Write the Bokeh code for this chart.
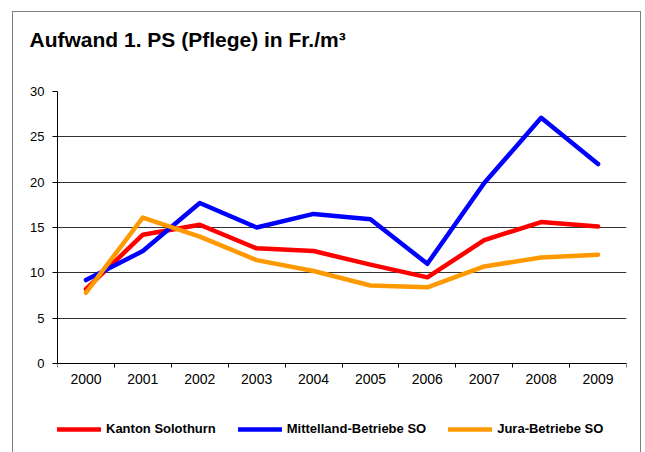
from bokeh.plotting import figure
from bokeh.models import Range1d, FixedTicker, Legend, LegendItem, LinearAxis
from bokeh.embed import file_html
from bokeh.resources import INLINE

title_text = "Aufwand 1. PS (Pflege) in Fr./m³"
years = ["2000", "2001", "2002", "2003", "2004", "2005", "2006", "2007", "2008", "2009"]
kanton = [8.2, 14.2, 15.3, 12.7, 12.4, 10.9, 9.5, 13.6, 15.6, 15.1]
mittelland = [9.2, 12.4, 17.7, 15.0, 16.5, 15.9, 11.0, 19.9, 27.1, 22.0]
jura = [7.8, 16.1, 14.0, 11.4, 10.2, 8.6, 8.4, 10.7, 11.7, 12.0]
y_ticks = [0, 5, 10, 15, 20, 25, 30]
series_names = ["Kanton Solothurn", "Mittelland-Betriebe SO", "Jura-Betriebe SO"]
series_colors = ["#FF0000", "#0000FF", "#FF9900"]

n = len(years)
centers = [i + 0.5 for i in range(n)]
bounds = [float(i) for i in range(n + 1)]

# frame extends below the x axis (which sits at y=0) so the legend lives inside it
p = figure(width=645, height=452, frame_width=569, frame_height=361,
           x_range=Range1d(0, n), y_range=Range1d(-9.82, 30),
           output_backend="svg", toolbar_location=None,
           min_border_left=57, min_border_right=19, min_border_top=91, min_border_bottom=0)
g = "linear-gradient(#7f7f7f,#7f7f7f)"
p.styles = {"background": f"{g} 12px 11px / 629px 1px no-repeat, {g} 12px 11px / 1px 441px no-repeat, "
                          f"{g} 640px 11px / 1px 441px no-repeat, white"}
p.outline_line_color = None
p.background_fill_color = "white"
p.border_fill_alpha = 0

# grab the real axes before adding anything else
xa = p.below[0]
ya = p.left[0]

p.title.text = title_text
p.title.align = "left"
p.title.offset = -28
p.title.standoff = 0
p.title.text_font = "Liberation Sans"
p.title.text_font_style = "bold"
p.title.text_font_size = "21px"
p.title.text_color = "black"

# x axis at y = 0
xa.fixed_location = 0
xa.ticker = FixedTicker(ticks=centers, minor_ticks=bounds)
xa.major_label_overrides = {c: y for c, y in zip(centers, years)}
xa.major_tick_out = 0
xa.major_tick_in = 0
xa.minor_tick_out = 4
xa.minor_tick_in = 0
xa.minor_tick_line_color = "black"
xa.axis_line_color = "black"
xa.major_label_standoff = 7
xa.major_label_text_font = "Liberation Sans"
xa.major_label_text_font_size = "14px"
xa.major_label_text_color = "black"

# y axis
ya.bounds = (y_ticks[0], y_ticks[-1])
ya.ticker = FixedTicker(ticks=y_ticks, minor_ticks=[])
ya.major_tick_out = 5
ya.major_tick_in = 0
ya.major_tick_line_color = "black"
ya.axis_line_color = "black"
ya.major_label_standoff = 8
ya.major_label_text_font = "Liberation Sans"
ya.major_label_text_font_size = "13px"
ya.major_label_text_color = "black"

# spacer between title and plot area (white tick at the right end, blank label)
spacer = LinearAxis(ticker=FixedTicker(ticks=[float(n)], minor_ticks=[]), axis_line_color=None,
                    major_tick_line_color="white", minor_tick_line_color=None,
                    major_tick_out=41, major_tick_in=0, minor_tick_out=0, minor_tick_in=0,
                    major_label_standoff=0, major_label_text_font_size="0px",
                    major_label_overrides={float(n): ""})
p.add_layout(spacer, "above")

p.xgrid.visible = False
p.ygrid.ticker = FixedTicker(ticks=y_ticks)
p.ygrid.grid_line_color = "#333333"
p.ygrid.grid_line_width = 1

renderers = []
for vals, col in zip([kanton, mittelland, jura], series_colors):
    r = p.line(centers, vals, line_color=col, line_width=4.5, line_join="round", line_cap="round")
    renderers.append(r)

legend = Legend(items=[LegendItem(label=nm, renderers=[r]) for nm, r in zip(series_names, renderers)],
                orientation="horizontal", location=(0, 16))
legend.padding = 0
legend.margin = 0
legend.spacing = 22
legend.border_line_color = None
legend.background_fill_alpha = 0
legend.glyph_width = 44
legend.glyph_height = 14
legend.label_height = 14
legend.label_standoff = 5
legend.label_text_font = "Liberation Sans"
legend.label_text_font_style = "bold"
legend.label_text_font_size = "13px"
legend.label_text_color = "black"
p.add_layout(legend, "center")

open("out.html", "w").write(file_html(p, INLINE))
